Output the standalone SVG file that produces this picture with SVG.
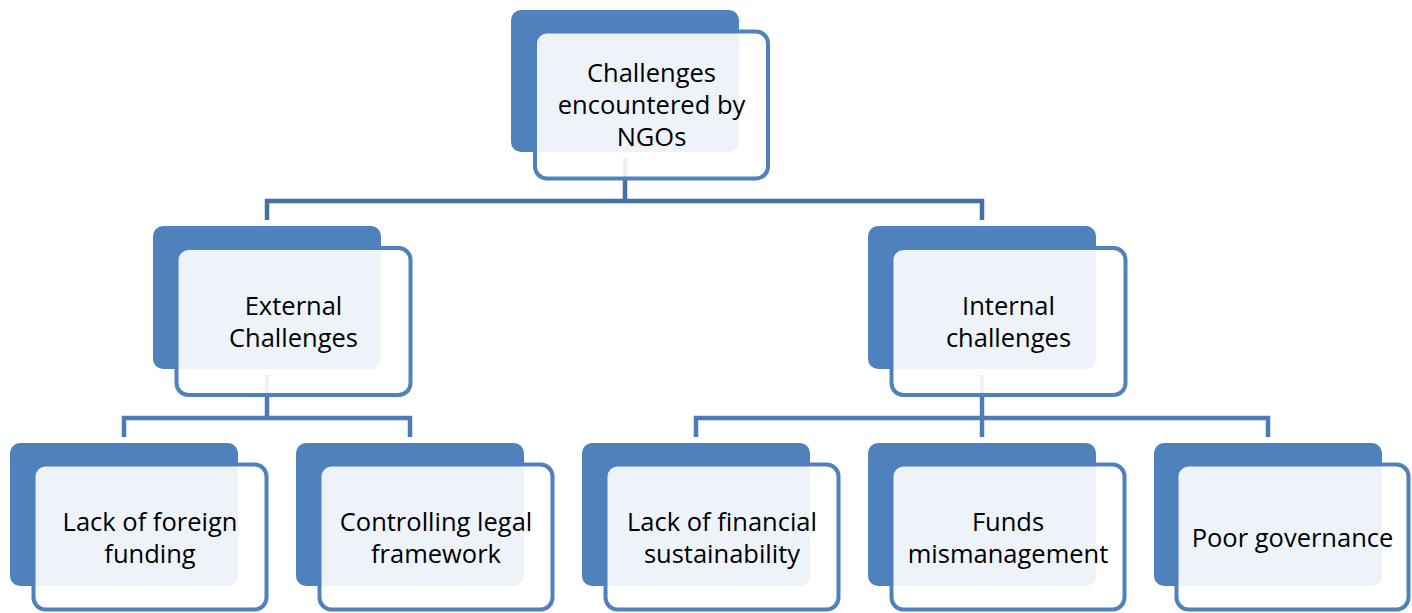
<svg xmlns="http://www.w3.org/2000/svg" width="1412" height="613" viewBox="0 0 1412 613">
  <style>
    .back { fill: #4f81bd; }
    .front { fill: #ffffff; fill-opacity: 0.9; stroke: #4f81bd; stroke-width: 4; }
    .lbl { font-family: "Open Sans", "Liberation Sans", sans-serif; font-size: 25.5px; fill: #000000; text-anchor: middle; }
    .c1 { fill: none; stroke: #4470a6; stroke-width: 4.5; }
    .c2 { fill: none; stroke: #4d7cb8; stroke-width: 4.5; }
  </style>
  <rect width="1412" height="613" fill="#ffffff"/>
  <g id="connectors">
    <path class="c1" d="M625 158 V201 M267 220 V201 H982 V220"/>
    <path class="c2" d="M267 375 V418 M124 437 V418 H410 V437"/>
    <path class="c2" d="M982 375 V437 M696 437 V418 H1268 V437"/>
  </g>
  <g id="node-root">
    <rect class="back" x="511" y="10" width="228" height="142" rx="10"/>
    <rect class="front" x="535" y="31.5" width="233" height="147" rx="12"/>
    <text class="lbl" x="651.5" y="82">Challenges</text>
    <text class="lbl" x="651.5" y="114">encountered by</text>
    <text class="lbl" x="651.5" y="146">NGOs</text>
  </g>
  <g id="node-external">
    <rect class="back" x="153" y="226" width="228" height="143" rx="10"/>
    <rect class="front" x="176.5" y="248" width="234" height="147" rx="12"/>
    <text class="lbl" x="293.5" y="315">External</text>
    <text class="lbl" x="293.5" y="347">Challenges</text>
  </g>
  <g id="node-internal">
    <rect class="back" x="868" y="226" width="228" height="143" rx="10"/>
    <rect class="front" x="891.5" y="248" width="234" height="147" rx="12"/>
    <text class="lbl" x="1008.5" y="315">Internal</text>
    <text class="lbl" x="1008.5" y="347">challenges</text>
  </g>
  <g id="node-foreign">
    <rect class="back" x="10" y="443" width="228" height="143" rx="10"/>
    <rect class="front" x="33.5" y="464.5" width="233" height="145" rx="12"/>
    <text class="lbl" x="150" y="531">Lack of foreign</text>
    <text class="lbl" x="150" y="563">funding</text>
  </g>
  <g id="node-legal">
    <rect class="back" x="296" y="443" width="228" height="143" rx="10"/>
    <rect class="front" x="319.5" y="464.5" width="233" height="145" rx="12"/>
    <text class="lbl" x="436" y="531">Controlling legal</text>
    <text class="lbl" x="436" y="563">framework</text>
  </g>
  <g id="node-financial">
    <rect class="back" x="582" y="443" width="228" height="143" rx="10"/>
    <rect class="front" x="605.5" y="464.5" width="233" height="145" rx="12"/>
    <text class="lbl" x="722" y="531">Lack of financial</text>
    <text class="lbl" x="722" y="563">sustainability</text>
  </g>
  <g id="node-funds">
    <rect class="back" x="868" y="443" width="228" height="143" rx="10"/>
    <rect class="front" x="891.5" y="464.5" width="233" height="145" rx="12"/>
    <text class="lbl" x="1008" y="531">Funds</text>
    <text class="lbl" x="1008" y="563">mismanagement</text>
  </g>
  <g id="node-governance">
    <rect class="back" x="1154" y="443" width="228" height="143" rx="10"/>
    <rect class="front" x="1176.5" y="464.5" width="232" height="145" rx="12"/>
    <text class="lbl" x="1292.5" y="547">Poor governance</text>
  </g>
</svg>
